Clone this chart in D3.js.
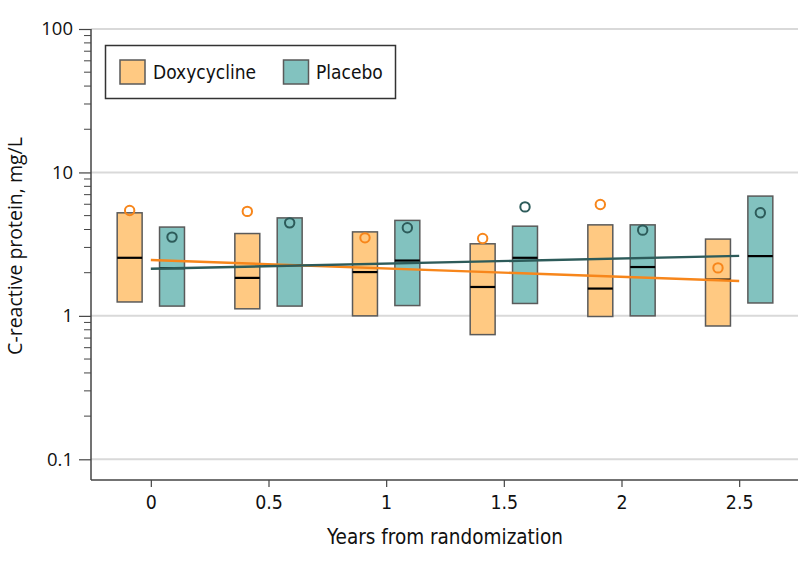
<!DOCTYPE html>
<html>
<head>
<meta charset="utf-8">
<script src="https://cdn.jsdelivr.net/npm/d3@7"></script>
<style>
  html, body { margin: 0; padding: 0; background: #fff; }
  svg { display: block; }
  text { font-family: "DejaVu Sans Condensed", "DejaVu Sans", sans-serif; font-stretch: condensed; fill: #111; }
</style>
</head>
<body>
<svg id="chart" width="798" height="566"></svg>
<script>
// ---- data ----
const times = [0, 0.5, 1, 1.5, 2, 2.5];
const doxyQ1 = [1.25, 1.12, 1.0, 0.74, 0.99, 0.85];
const doxyMedian = [2.54, 1.84, 2.02, 1.59, 1.55, 1.79];
const doxyQ3 = [5.23, 3.75, 3.85, 3.18, 4.31, 3.43];
const doxyMean = [5.43, 5.35, 3.50, 3.46, 5.98, 2.16];
const placQ1 = [1.17, 1.17, 1.18, 1.22, 1.0, 1.23];
const placMedian = [2.15, 2.26, 2.43, 2.54, 2.19, 2.61];
const placQ3 = [4.16, 4.82, 4.63, 4.22, 4.31, 6.84];
const placMean = [3.54, 4.45, 4.11, 5.75, 3.96, 5.23];
const trendTimes = [0, 2.5];
const doxyTrend = [2.45, 1.75];
const placTrend = [2.13, 2.62];
const xTicks = [0, 0.5, 1, 1.5, 2, 2.5];
const xTickLabels = ["0", "0.5", "1", "1.5", "2", "2.5"];
const yTicks = [0.1, 1, 10, 100];
const yTickLabels = ["0.1", "1", "10", "100"];
const seriesNames = ["Doxycycline", "Placebo"];

// ---- styles ----
const doxyFill = "#FFC982", placFill = "#82C2BF";
const doxyLine = "#F7861B", placLine = "#2D5B5A";
const boxStroke = "#5a5a5a";

const svg = d3.select("#chart");
const plotLeft = 91, plotRight = 798, plotTop = 29, plotBottom = 480;

const x = d3.scaleLinear().domain([-0.25, 2.75]).range([92, 798]);
const y = d3.scaleLog().domain([0.1, 100]).range([459.3, 29]);

// fit a font size so that a reference text has a given width
function fitSize(sel, base, target) {
  sel.style("font-size", base + "px");
  const w = sel.node().getComputedTextLength();
  const s = w > 0 ? base * target / w : base;
  return Math.max(base * 0.85, Math.min(base * 1.15, s));
}

// gridlines
svg.append("g").selectAll("line").data(yTicks).join("line")
  .attr("x1", plotLeft).attr("x2", plotRight)
  .attr("y1", d => y(d)).attr("y2", d => y(d))
  .attr("stroke", "#d9d9d9").attr("stroke-width", 2);

// y axis
const minorTicks = [];
[0.1, 1, 10].forEach(b => { for (let k = 2; k <= 9; k++) minorTicks.push(b * k); });
const yAxis = d3.axisLeft(y).tickValues(yTicks).tickFormat((d, i) => yTickLabels[i]).tickSize(12).tickPadding(6);
const gy = svg.append("g").attr("transform", `translate(${plotLeft},0)`).call(yAxis);
gy.select(".domain").remove();
gy.selectAll(".tick line").attr("stroke", "#444").attr("stroke-width", 1.2);
const yTxt = gy.selectAll(".tick text").style("font-family", "'Open Sans', 'Noto Sans', sans-serif").style("font-stretch", "normal").attr("fill", "#111");
const yTickSize = fitSize(yTxt.filter((d) => d === 100), 18.5, 31.7);
yTxt.style("font-size", yTickSize + "px");
svg.append("g").attr("transform", `translate(${plotLeft},0)`).selectAll("line").data(minorTicks).join("line")
  .attr("x1", -7).attr("x2", 0).attr("y1", d => y(d)).attr("y2", d => y(d))
  .attr("stroke", "#444").attr("stroke-width", 1);
svg.append("line").attr("x1", plotLeft).attr("x2", plotLeft).attr("y1", plotTop).attr("y2", plotBottom)
  .attr("stroke", "#444").attr("stroke-width", 1.5);

// x axis
const xAxis = d3.axisBottom(x).tickValues(xTicks).tickFormat((d, i) => xTickLabels[i]).tickSize(7).tickPadding(8.5);
const gx = svg.append("g").attr("transform", `translate(0,${plotBottom})`).call(xAxis);
gx.select(".domain").remove();
gx.selectAll(".tick line").attr("stroke", "#444").attr("stroke-width", 1.2);
const xTxt = gx.selectAll(".tick text").attr("fill", "#111");
const xTickSize = fitSize(xTxt.filter(d => d === 0.5), 20, 27.7);
xTxt.style("font-size", xTickSize + "px");
svg.append("line").attr("x1", plotLeft).attr("x2", plotRight).attr("y1", plotBottom).attr("y2", plotBottom)
  .attr("stroke", "#444").attr("stroke-width", 1.5);

// axis titles
const xt = svg.append("text").attr("x", 445).attr("y", 543.5).attr("text-anchor", "middle")
  .text("Years from randomization");
xt.style("font-size", fitSize(xt, 20.5, 236) + "px");
svg.append("text").attr("transform", "translate(22,246) rotate(-90)").attr("text-anchor", "middle")
  .style("font-family", "'Open Sans', 'Noto Sans', sans-serif").style("font-stretch", "normal")
  .style("font-size", "19.5px")
  .text("C-reactive protein, mg/L");

// boxes
const off = 0.09, bw = 0.106;
function drawSeries(q1, med, q3, mean, fill, sign) {
  const g = svg.append("g");
  const data = times.map((t, i) => ({ t: t + sign * off, q1: q1[i], med: med[i], q3: q3[i], mean: mean[i] }));
  g.selectAll("rect").data(data).join("rect")
    .attr("x", d => x(d.t - bw / 2)).attr("width", d => x(d.t + bw / 2) - x(d.t - bw / 2))
    .attr("y", d => y(d.q3)).attr("height", d => y(d.q1) - y(d.q3))
    .attr("fill", fill).attr("stroke", boxStroke).attr("stroke-width", 1.5);
  g.selectAll("line.med").data(data).join("line").attr("class", "med")
    .attr("x1", d => x(d.t - bw / 2)).attr("x2", d => x(d.t + bw / 2))
    .attr("y1", d => y(d.med)).attr("y2", d => y(d.med))
    .attr("stroke", "#000").attr("stroke-width", 2.2);
  return data;
}
const dData = drawSeries(doxyQ1, doxyMedian, doxyQ3, doxyMean, doxyFill, -1);
const pData = drawSeries(placQ1, placMedian, placQ3, placMean, placFill, 1);

// trend lines
const line = d3.line().x(d => x(d[0])).y(d => y(d[1]));
svg.append("path").datum(trendTimes.map((t, i) => [t, doxyTrend[i]]))
  .attr("d", line).attr("fill", "none").attr("stroke", doxyLine).attr("stroke-width", 2.4);
svg.append("path").datum(trendTimes.map((t, i) => [t, placTrend[i]]))
  .attr("d", line).attr("fill", "none").attr("stroke", placLine).attr("stroke-width", 2.4);

// mean circles
svg.append("g").selectAll("circle").data(dData).join("circle")
  .attr("cx", d => x(d.t)).attr("cy", d => y(d.mean)).attr("r", 4.7)
  .attr("fill", "none").attr("stroke", doxyLine).attr("stroke-width", 2);
svg.append("g").selectAll("circle").data(pData).join("circle")
  .attr("cx", d => x(d.t)).attr("cy", d => y(d.mean)).attr("r", 4.7)
  .attr("fill", "none").attr("stroke", placLine).attr("stroke-width", 2);

// legend
const lg = svg.append("g");
lg.append("rect").attr("x", 105.5).attr("y", 45.5).attr("width", 290).attr("height", 53)
  .attr("fill", "#fff").attr("stroke", "#333").attr("stroke-width", 1.5);
const legItems = [
  { name: seriesNames[0], fill: doxyFill, sx: 120, tx: 153 },
  { name: seriesNames[1], fill: placFill, sx: 283.5, tx: 316 }
];
legItems.forEach(it => {
  lg.append("rect").attr("x", it.sx).attr("y", 60).attr("width", 25).attr("height", 24)
    .attr("fill", it.fill).attr("stroke", boxStroke).attr("stroke-width", 1.5);
  lg.append("text").attr("x", it.tx).attr("y", 79).style("font-size", "19px").text(it.name);
});
</script>
</body>
</html>
